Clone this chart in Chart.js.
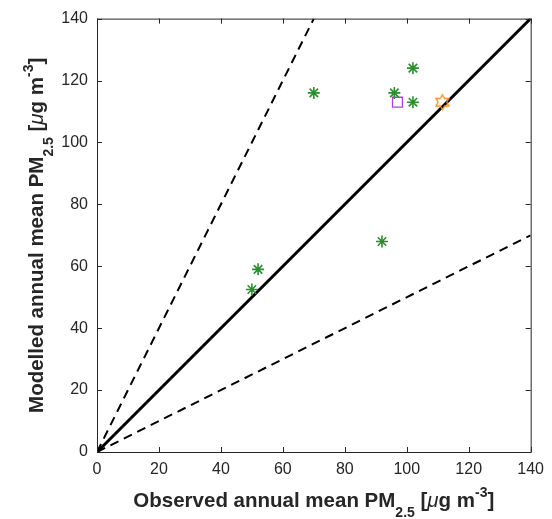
<!DOCTYPE html>
<html>
<head>
<meta charset="utf-8">
<script src="https://cdn.jsdelivr.net/npm/chart.js@4.4.1/dist/chart.umd.min.js"></script>
<style>
  html, body { margin: 0; padding: 0; background: #fff; overflow: hidden; }
  #wrap { position: relative; width: 552px; height: 519px; }
</style>
</head>
<body>
<div id="wrap"><canvas id="chart"></canvas></div>
<script>
// values
const axisTicks = [0, 20, 40, 60, 80, 100, 120, 140];

// green asterisks
const siteObs = [50, 52, 70, 92, 96, 102, 102];
const siteMod = [52.5, 59, 116, 68, 116, 124, 113];

// purple square
const squareObs = [97];
const squareMod = [113];

// orange hexagram
const hexObs = [111.5];
const hexMod = [113];

// 1:1 and factor-of-two lines
const oneToOneX = [0, 140];
const oneToOneY = [0, 140];
const upperX = [0, 70];
const upperY = [0, 140];
const lowerX = [0, 140];
const lowerY = [0, 70];

const FONT = "'Liberation Sans', Arial, Helvetica, sans-serif";
const INK = '#262626';

const toPoints = (xs, ys) => xs.map((x, i) => ({ x: x, y: ys[i] }));

// hexagram marker (Chart.js has no six point star)
function makeHexagram(color, r) {
  const size = Math.ceil(r * 2 + 4);
  const c = document.createElement('canvas');
  c.width = size;
  c.height = size;
  const g = c.getContext('2d');
  const inner = r / Math.sqrt(3);
  g.beginPath();
  for (let i = 0; i < 12; i++) {
    const ang = -Math.PI / 2 + i * Math.PI / 6;
    const rad = i % 2 === 0 ? r : inner;
    const px = size / 2 + rad * Math.cos(ang);
    const py = size / 2 + rad * Math.sin(ang);
    if (i === 0) g.moveTo(px, py); else g.lineTo(px, py);
  }
  g.closePath();
  g.strokeStyle = color;
  g.lineWidth = 1.3;
  g.stroke();
  return c;
}

function drawRichText(ctx, parts, cx, cy, angle) {
  ctx.save();
  ctx.translate(cx, cy);
  ctx.rotate(angle);
  ctx.textAlign = 'left';
  ctx.textBaseline = 'alphabetic';
  ctx.fillStyle = INK;
  let total = 0;
  parts.forEach(p => {
    ctx.font = p.font;
    p.w = ctx.measureText(p.text).width;
    total += p.w;
  });
  let x = -total / 2;
  parts.forEach(p => {
    ctx.font = p.font;
    ctx.fillText(p.text, x, p.dy || 0);
    x += p.w;
  });
  ctx.restore();
}

function titleParts(lead) {
  const big = 'bold 20.5px ' + FONT;
  const small = 'bold 14px ' + FONT;
  return [
    { text: lead, font: big },
    { text: '2.5', font: small, dy: 10 },
    { text: ' [', font: big },
    { text: 'μ', font: 'italic 20.5px ' + FONT },
    { text: 'g m', font: big },
    { text: '-3', font: small, dy: -10 },
    { text: ']', font: big }
  ];
}

// matlab style box, inward ticks and the two axis titles
const framePlugin = {
  id: 'frame',
  afterDatasetsDraw(chart) {
    const { ctx, chartArea: a, scales } = chart;
    const sx = scales.x, sy = scales.y;
    const tick = 5;
    ctx.save();
    ctx.strokeStyle = INK;
    ctx.lineWidth = 1;
    ctx.strokeRect(a.left + 0.5, a.top + 0.5, a.right - a.left, a.bottom - a.top);
    ctx.beginPath();
    axisTicks.forEach(v => {
      const px = Math.round(sx.getPixelForValue(v)) + 0.5;
      ctx.moveTo(px, a.bottom);
      ctx.lineTo(px, a.bottom - tick);
      ctx.moveTo(px, a.top);
      ctx.lineTo(px, a.top + tick);
      const py = Math.round(sy.getPixelForValue(v)) + 0.5;
      ctx.moveTo(a.left, py);
      ctx.lineTo(a.left + tick, py);
      ctx.moveTo(a.right, py);
      ctx.lineTo(a.right - tick, py);
    });
    ctx.stroke();
    ctx.restore();

    drawRichText(ctx, titleParts('Observed annual mean PM'), (a.left + a.right) / 2, 507, 0);
    drawRichText(ctx, titleParts('Modelled annual mean PM'), 43, (a.top + a.bottom) / 2, -Math.PI / 2);
  }
};

Chart.defaults.font.family = FONT;
Chart.defaults.color = INK;

new Chart(document.getElementById('chart'), {
  type: 'scatter',
  data: {
    datasets: [
      {
        label: 'sites',
        data: toPoints(siteObs, siteMod),
        pointStyle: 'star',
        pointRadius: 6,
        borderColor: '#28902c',
        borderWidth: 1.6
      },
      {
        label: 'square',
        data: toPoints(squareObs, squareMod),
        pointStyle: 'rect',
        pointRadius: 7,
        borderColor: '#b23de6',
        backgroundColor: 'rgba(255,255,255,0)',
        borderWidth: 1.3
      },
      {
        label: 'hexagram',
        data: toPoints(hexObs, hexMod),
        pointStyle: makeHexagram('#ff8c1a', 7.5),
        pointRadius: 8
      },
      {
        label: '1:1',
        data: toPoints(oneToOneX, oneToOneY),
        showLine: true,
        borderColor: '#000',
        borderWidth: 3,
        pointRadius: 0
      },
      {
        label: '2:1',
        data: toPoints(upperX, upperY),
        showLine: true,
        borderColor: '#000',
        borderWidth: 2,
        borderDash: [9, 6],
        pointRadius: 0
      },
      {
        label: '1:2',
        data: toPoints(lowerX, lowerY),
        showLine: true,
        borderColor: '#000',
        borderWidth: 2,
        borderDash: [9, 6],
        pointRadius: 0
      }
    ]
  },
  options: {
    responsive: true,
    maintainAspectRatio: false,
    animation: false,
    layout: {
      autoPadding: false,
      padding: { top: 14, right: 17, left: 0, bottom: 0 }
    },
    plugins: {
      legend: { display: false },
      tooltip: { enabled: false }
    },
    scales: {
      x: {
        type: 'linear',
        min: 0,
        max: 140,
        grid: { display: false, drawTicks: false },
        border: { display: false },
        ticks: { stepSize: 20, padding: 8, font: { size: 16 }, color: INK },
        afterFit: scale => { scale.height = 67; }
      },
      y: {
        type: 'linear',
        min: 0,
        max: 140,
        grid: { display: false, drawTicks: false },
        border: { display: false },
        ticks: { stepSize: 20, padding: 9, font: { size: 16 }, color: INK },
        afterFit: scale => { scale.width = 97; }
      }
    }
  },
  plugins: [framePlugin]
});
</script>
</body>
</html>
